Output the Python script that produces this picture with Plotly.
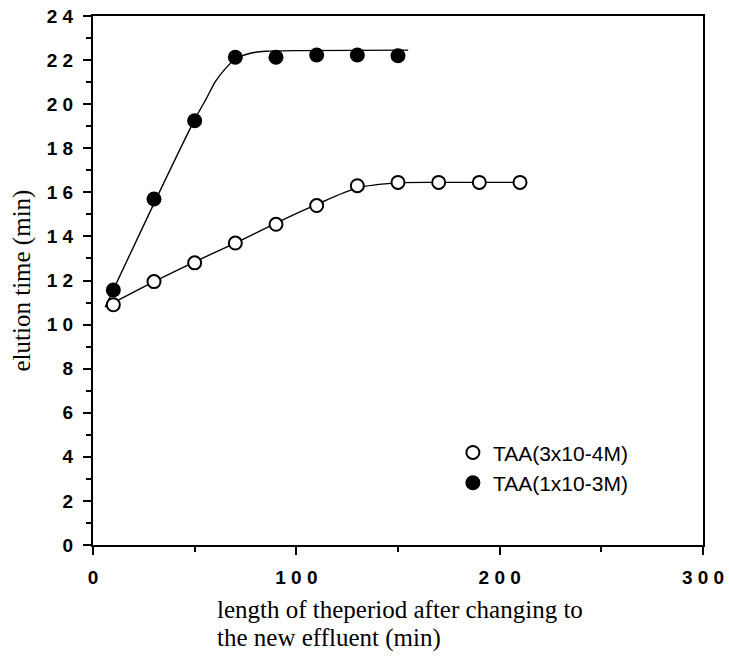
import plotly.graph_objects as go

# Measured points
x_open = [10, 30, 50, 70, 90, 110, 130, 150, 170, 190, 210]
y_open = [10.9, 11.95, 12.8, 13.7, 14.55, 15.4, 16.3, 16.45, 16.45, 16.45, 16.45]

x_fill = [10, 30, 50, 70, 90, 110, 130, 150]
y_fill = [11.57, 15.7, 19.25, 22.13, 22.13, 22.23, 22.23, 22.2]

# Hand-drawn fitted curves
fit_open_x = [6, 30, 50, 70, 90, 110, 130, 150, 170, 210]
fit_open_y = [10.8, 11.95, 12.85, 13.7, 14.6, 15.45, 16.2, 16.43, 16.45, 16.45]

fit_fill_x = [6, 30, 50, 56, 60, 65, 70, 77, 85, 100, 155]
fit_fill_y = [10.8, 15.5, 19.3, 20.3, 21.0, 21.6, 22.05, 22.3, 22.4, 22.43, 22.45]

x_ticks = [0, 100, 200, 300]
x_tick_text = ["0", "1 0 0", "2 0 0", "3 0 0"]
y_ticks = list(range(0, 25, 2))
y_tick_text = [" ".join(str(v)) for v in y_ticks]

legend_open = "TAA(3x10-4M)"
legend_fill = "TAA(1x10-3M)"
x_title_1 = "length of theperiod after changing to"
x_title_2 = "the new effluent (min)"
y_title = "elution time (min)"

fig = go.Figure()

fig.add_trace(go.Scatter(x=fit_open_x, y=fit_open_y, mode="lines",
                         line=dict(color="black", width=1.4, shape="spline", smoothing=0.7),
                         showlegend=False, hoverinfo="skip"))
fig.add_trace(go.Scatter(x=fit_fill_x, y=fit_fill_y, mode="lines",
                         line=dict(color="black", width=1.4, shape="spline", smoothing=0.6),
                         showlegend=False, hoverinfo="skip"))

fig.add_trace(go.Scatter(x=x_open, y=y_open, mode="markers", name=legend_open,
                         legendgroup="a",
                         marker=dict(symbol="circle", size=13, color="white",
                                     line=dict(color="black", width=2))))
fig.add_trace(go.Scatter(x=x_fill, y=y_fill, mode="markers", name=legend_fill,
                         legendgroup="b",
                         marker=dict(symbol="circle", size=15, color="black",
                                     line=dict(color="black", width=0))))

tickfont = dict(family="Liberation Sans", size=19, color="black", weight="bold")

fig.update_xaxes(range=[0, 300], tickvals=x_ticks, ticktext=x_tick_text,
                 ticks="outside", ticklen=8, tickwidth=2, tickcolor="black",
                 showline=True, linecolor="black", linewidth=2, mirror=True,
                 showgrid=False, zeroline=False, tickfont=tickfont,
                 ticklabelstandoff=6, automargin=False,
                 minor=dict(dtick=50, tick0=0, ticks="outside", ticklen=5,
                            tickwidth=2, tickcolor="black", showgrid=False))
fig.update_yaxes(range=[0, 24], tickvals=y_ticks, ticktext=y_tick_text,
                 ticks="outside", ticklen=8, tickwidth=2, tickcolor="black",
                 showline=True, linecolor="black", linewidth=2, mirror=True,
                 showgrid=False, zeroline=False, tickfont=tickfont,
                 ticklabelstandoff=6, automargin=False,
                 minor=dict(dtick=1, tick0=0, ticks="outside", ticklen=5,
                            tickwidth=2, tickcolor="black", showgrid=False))

title_font = dict(family="Liberation Serif", size=25, color="black")
fig.add_annotation(text=x_title_1, xref="paper", yref="paper", x=0, y=0,
                   xanchor="left", yanchor="middle", xshift=122, yshift=-64,
                   showarrow=False, font=title_font)
fig.add_annotation(text=x_title_2, xref="paper", yref="paper", x=0, y=0,
                   xanchor="left", yanchor="middle", xshift=122, yshift=-93,
                   showarrow=False, font=title_font)
fig.add_annotation(text=y_title, xref="paper", yref="paper", x=0, y=0.5,
                   xanchor="center", yanchor="middle", xshift=-72, textangle=-90,
                   showarrow=False, font=title_font)

fig.update_layout(
    width=729, height=656,
    margin=dict(l=93, r=26, t=16, b=111),
    paper_bgcolor="white", plot_bgcolor="white",
    legend=dict(x=0.59, y=0.213, xanchor="left", yanchor="top",
                traceorder="grouped", tracegroupgap=0,
                font=dict(family="Liberation Sans", size=21, color="black"),
                bgcolor="rgba(0,0,0,0)"),
)

fig.write_html("out.html")
